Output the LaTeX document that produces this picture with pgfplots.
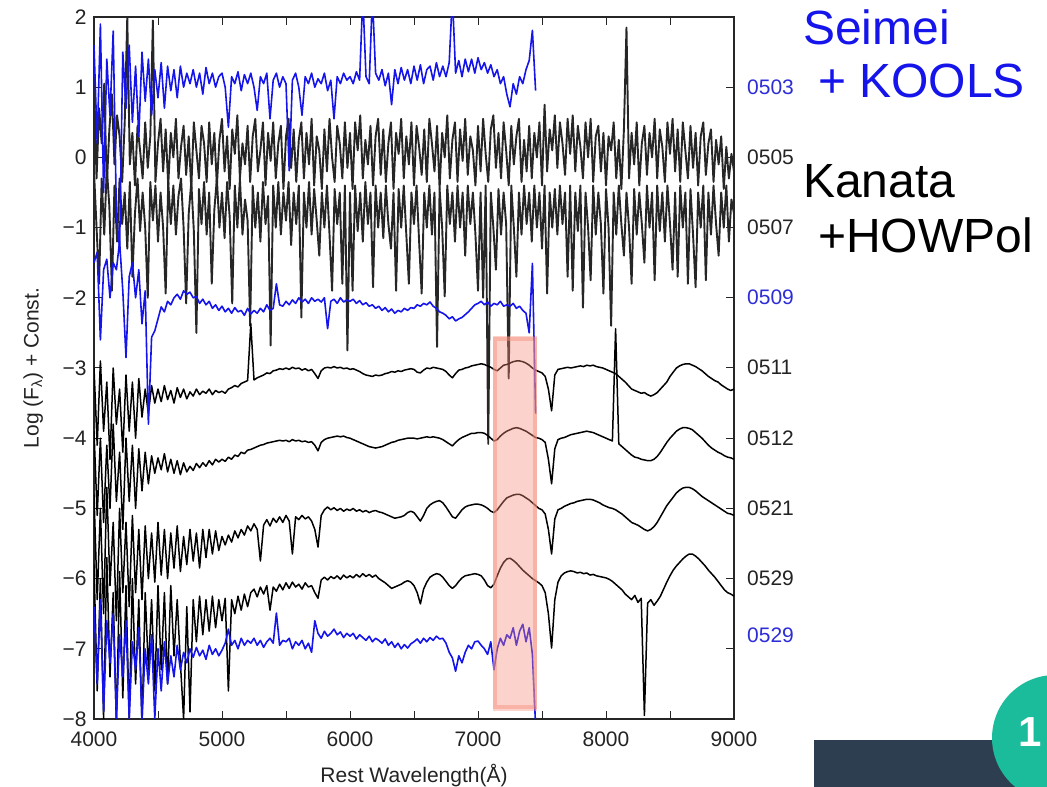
\documentclass[border=0pt]{standalone}
\usepackage{pgfplots}
\pgfplotsset{compat=1.18}
\usepackage{pgfplotstable}
\usepackage{fontspec}
\setmainfont{Liberation Sans}
\definecolor{specblue}{RGB}{20,20,235}
\definecolor{lblblue}{RGB}{45,45,215}
\definecolor{txt}{RGB}{35,35,35}
\definecolor{boxpink}{RGB}{245,140,120}
\definecolor{slate}{RGB}{44,62,80}
\definecolor{badge}{RGB}{26,188,156}

% 0503 (Seimei), 4000-7450 step 25
\pgfplotstableread[header=false,row sep=\\]{
1.6\\ 0.2\\ 1.9\\ -0.5\\ 1.4\\ 0.6\\ 1.8\\ -0.8\\ -1.3\\ 1.5\\
0.7\\ 1.6\\ 0.5\\ 1.3\\ 0.3\\ 1.5\\ 0.8\\ 1.4\\ 0.6\\ 1.25\\
0.85\\ 1.35\\ 0.7\\ 1.3\\ 0.95\\ 1.25\\ 0.85\\ 1.3\\ 1.0\\ 1.2\\
1.05\\ 1.25\\ 1.0\\ 1.2\\ 0.9\\ 1.28\\ 1.05\\ 1.2\\ 1.0\\ 1.15\\
1.2\\ 1.0\\ 0.43\\ 1.15\\ 1.05\\ 1.22\\ 0.95\\ 1.18\\ 1.05\\ 1.2\\
1.0\\ 0.67\\ 1.15\\ 1.05\\ 1.2\\ 0.55\\ 1.1\\ 1.2\\ 1.0\\ 1.15\\
1.05\\ -0.19\\ 1.1\\ 1.2\\ 1.0\\ 0.6\\ 1.15\\ 1.05\\ 1.2\\ 1.0\\
1.12\\ 1.05\\ 1.2\\ 0.95\\ 1.1\\ 0.55\\ 1.15\\ 1.05\\ 1.2\\ 1.1\\
1.15\\ 1.05\\ 1.22\\ 1.1\\ 2.3\\ 1.15\\ 1.05\\ 2.3\\ 1.2\\ 1.1\\
1.25\\ 1.02\\ 1.2\\ 0.75\\ 1.25\\ 1.05\\ 1.28\\ 1.1\\ 1.25\\ 1.05\\
1.3\\ 1.1\\ 1.32\\ 1.05\\ 1.25\\ 1.3\\ 1.1\\ 1.35\\ 1.15\\ 1.3\\
1.15\\ 1.35\\ 2.3\\ 1.2\\ 1.38\\ 1.15\\ 1.4\\ 1.22\\ 1.4\\ 1.2\\
1.42\\ 1.25\\ 1.35\\ 1.2\\ 1.32\\ 1.15\\ 1.25\\ 1.05\\ 1.15\\ 0.9\\
0.72\\ 1.05\\ 0.9\\ 1.15\\ 1.05\\ 1.25\\ 1.38\\ 1.81\\ 0.95\\
}\sA

% 0505 (Kanata), 4000-9000 step 20
\pgfplotstableread[header=false,row sep=\\]{
1.1\\ -0.3\\ 0.7\\ 0.2\\ 1.05\\ -0.4\\ 0.4\\ 0.9\\ -0.1\\ 0.6\\
0.3\\ -0.35\\ 0.5\\ 2.0\\ -0.1\\ 0.35\\ -0.4\\ 0.45\\ 0.1\\ -0.3\\
0.5\\ -0.15\\ 0.3\\ 1.95\\ -0.35\\ 0.2\\ 0.55\\ -0.2\\ 0.4\\ -0.4\\
0.35\\ 0.0\\ 0.55\\ -0.3\\ 0.15\\ 0.45\\ -0.25\\ 0.3\\ -0.45\\ 0.5\\
0.1\\ -0.3\\ 0.45\\ 0.2\\ -0.35\\ 0.5\\ -0.1\\ 0.35\\ -0.4\\ 0.25\\
0.55\\ -0.2\\ 0.3\\ -0.45\\ 0.4\\ 0.05\\ 0.6\\ -0.3\\ 0.2\\ -0.1\\
0.45\\ -0.35\\ 0.3\\ 0.55\\ -0.2\\ 0.1\\ 0.5\\ -0.4\\ 0.35\\ -0.05\\
0.5\\ -0.3\\ 0.2\\ 0.45\\ -0.45\\ 0.3\\ 0.55\\ -0.15\\ 0.4\\ -0.35\\
0.25\\ 0.5\\ -0.3\\ 0.35\\ -0.1\\ 0.55\\ -0.4\\ 0.3\\ 0.1\\ -0.45\\
0.4\\ -0.2\\ 0.55\\ 0.0\\ -0.35\\ 0.45\\ 0.2\\ -0.3\\ 0.5\\ -0.15\\
0.35\\ -0.45\\ 0.5\\ 0.1\\ 0.6\\ -0.3\\ 0.25\\ -0.1\\ 0.45\\ -0.4\\
0.3\\ 0.55\\ -0.25\\ 0.4\\ -0.35\\ 0.2\\ 0.5\\ -0.45\\ 0.35\\ 0.05\\
0.55\\ -0.3\\ 0.3\\ -0.1\\ 0.5\\ -0.4\\ 0.45\\ 0.15\\ -0.25\\ 0.4\\
-0.35\\ 0.55\\ 0.2\\ -0.2\\ 0.45\\ -0.45\\ 0.35\\ 0.0\\ 0.6\\ -0.3\\
0.25\\ 0.5\\ -0.35\\ 0.4\\ -0.05\\ 0.55\\ -0.25\\ 0.3\\ 0.1\\ -0.4\\
0.45\\ -0.2\\ 0.55\\ 0.05\\ -0.35\\ 0.4\\ 0.6\\ -0.15\\ 0.35\\ -0.3\\
0.5\\ 0.1\\ -0.4\\ 0.45\\ -0.1\\ 0.3\\ 0.55\\ -0.35\\ 0.25\\ -0.2\\
0.45\\ -0.3\\ 0.35\\ 0.0\\ 0.5\\ -0.4\\ 0.75\\ -0.2\\ 0.4\\ 0.1\\
0.6\\ -0.15\\ 0.5\\ 0.2\\ -0.25\\ 0.55\\ 0.05\\ 0.6\\ -0.2\\ 0.45\\
0.15\\ -0.3\\ 0.5\\ 0.0\\ 0.55\\ -0.35\\ 0.3\\ 0.45\\ -0.2\\ 0.35\\
-0.4\\ 0.3\\ 0.1\\ 0.5\\ -0.3\\ 0.25\\ -0.45\\ 0.4\\ 1.85\\ -0.3\\
0.35\\ -0.1\\ 0.5\\ -0.4\\ 0.2\\ 0.45\\ -0.25\\ 0.35\\ 0.0\\ 0.55\\
-0.3\\ 0.4\\ 0.15\\ -0.35\\ 0.5\\ 0.05\\ 0.55\\ -0.2\\ 0.4\\ -0.35\\
0.5\\ 0.1\\ -0.3\\ 0.45\\ -0.15\\ 0.35\\ -0.4\\ 0.3\\ 0.5\\ -0.25\\
0.2\\ 0.4\\ -0.35\\ 0.25\\ -0.1\\ 0.3\\ -0.45\\ 0.15\\ -0.3\\ 0.05\\ -0.2\\
}\sB

% 0507 (Kanata), 4000-9000 step 20
\pgfplotstableread[header=false,row sep=\\]{
-0.2\\ -1.0\\ -1.8\\ -0.3\\ -1.1\\ -0.15\\ -0.7\\ -1.9\\ -0.4\\ -1.2\\
-0.3\\ -0.95\\ -0.5\\ -1.3\\ -0.35\\ -1.7\\ -0.8\\ -0.3\\ -1.05\\ -0.5\\
-1.0\\ -2.0\\ -0.35\\ -0.9\\ -0.4\\ -1.2\\ -0.5\\ -1.0\\ -1.94\\ -0.35\\
-0.95\\ -0.4\\ -1.1\\ -0.55\\ -0.3\\ -1.0\\ -2.08\\ -0.8\\ -0.35\\ -1.05\\
-2.5\\ -0.45\\ -0.95\\ -0.35\\ -1.1\\ -0.5\\ -1.8\\ -0.75\\ -0.3\\ -1.0\\
-0.5\\ -1.15\\ -0.35\\ -0.85\\ -2.08\\ -0.4\\ -1.0\\ -0.3\\ -1.1\\ -0.6\\
-0.9\\ -2.4\\ -0.4\\ -1.0\\ -0.5\\ -1.2\\ -0.35\\ -0.95\\ -0.55\\ -2.68\\
-0.4\\ -1.0\\ -0.35\\ -1.1\\ -0.5\\ -0.9\\ -0.35\\ -1.25\\ -0.5\\ -0.95\\
-0.4\\ -2.28\\ -0.5\\ -1.0\\ -0.35\\ -1.1\\ -0.45\\ -0.9\\ -1.4\\ -0.5\\
-1.0\\ -0.4\\ -1.1\\ -1.9\\ -0.45\\ -0.95\\ -0.5\\ -1.8\\ -0.4\\ -2.75\\
-0.5\\ -1.9\\ -0.4\\ -1.05\\ -0.5\\ -1.2\\ -0.35\\ -0.95\\ -0.5\\ -1.85\\
-0.4\\ -1.0\\ -0.5\\ -1.15\\ -0.4\\ -0.95\\ -1.3\\ -0.5\\ -1.9\\ -0.45\\
-1.0\\ -0.4\\ -1.1\\ -1.8\\ -0.5\\ -0.95\\ -0.4\\ -1.2\\ -1.94\\ -0.5\\
-1.0\\ -0.4\\ -1.1\\ -0.5\\ -2.7\\ -0.45\\ -1.0\\ -1.98\\ -0.4\\ -0.95\\
-0.5\\ -1.2\\ -0.4\\ -1.0\\ -0.5\\ -1.4\\ -0.4\\ -0.95\\ -0.5\\ -1.1\\
-1.9\\ -0.5\\ -2.0\\ -0.4\\ -4.08\\ -0.5\\ -1.0\\ -1.6\\ -0.45\\ -1.1\\
-0.5\\ -0.95\\ -3.15\\ -0.4\\ -1.0\\ -1.7\\ -0.5\\ -1.1\\ -0.4\\ -0.95\\
-0.5\\ -1.2\\ -0.4\\ -1.0\\ -0.5\\ -1.3\\ -0.4\\ -1.94\\ -0.5\\ -1.0\\
-0.45\\ -1.1\\ -0.4\\ -0.95\\ -0.5\\ -1.7\\ -0.4\\ -1.9\\ -0.5\\ -1.05\\
-0.4\\ -2.14\\ -0.5\\ -1.0\\ -1.75\\ -0.4\\ -1.1\\ -0.5\\ -0.95\\ -1.94\\
-0.45\\ -1.0\\ -2.4\\ -0.5\\ -1.1\\ -0.4\\ -0.95\\ -1.4\\ -0.5\\ -1.0\\
-1.8\\ -0.45\\ -1.1\\ -0.5\\ -0.95\\ -1.5\\ -0.4\\ -1.0\\ -0.5\\ -1.75\\
-0.4\\ -1.05\\ -0.5\\ -1.2\\ -0.4\\ -0.95\\ -1.6\\ -0.5\\ -1.7\\ -0.4\\
-1.0\\ -0.5\\ -1.8\\ -0.45\\ -1.1\\ -1.85\\ -0.5\\ -1.0\\ -0.4\\ -1.75\\
-0.5\\ -1.1\\ -0.4\\ -0.95\\ -1.4\\ -0.5\\ -1.0\\ -0.4\\ -1.2\\ -0.6\\ -0.8\\
}\sC

% 0509 (Seimei), 4000-7450 step 25
\pgfplotstableread[header=false,row sep=\\]{
-1.5\\ -1.35\\ -2.6\\ -1.6\\ -1.45\\ -2.0\\ -1.5\\ -1.6\\ -1.2\\ -1.9\\
-2.85\\ -1.7\\ -1.5\\ -2.0\\ -1.6\\ -2.37\\ -1.9\\ -3.8\\ -2.56\\ -2.47\\
-2.3\\ -2.13\\ -2.2\\ -2.05\\ -2.1\\ -2.0\\ -1.95\\ -2.02\\ -1.9\\ -1.95\\
-1.92\\ -2.0\\ -1.98\\ -2.08\\ -2.02\\ -2.1\\ -2.05\\ -2.15\\ -2.1\\ -2.18\\
-2.12\\ -2.2\\ -2.15\\ -2.22\\ -2.14\\ -2.2\\ -2.18\\ -2.25\\ -2.15\\ -2.23\\
-2.18\\ -2.22\\ -2.15\\ -2.2\\ -2.1\\ -2.18\\ -2.15\\ -1.8\\ -2.1\\ -2.12\\
-2.05\\ -2.1\\ -2.03\\ -2.08\\ -2.0\\ -2.06\\ -2.02\\ -2.08\\ -2.0\\ -2.05\\
-2.02\\ -2.06\\ -2.0\\ -2.44\\ -2.05\\ -2.02\\ -2.08\\ -2.0\\ -2.06\\ -2.03\\
-2.05\\ -2.02\\ -2.08\\ -2.04\\ -2.1\\ -2.07\\ -2.12\\ -2.1\\ -2.15\\ -2.12\\
-2.18\\ -2.14\\ -2.2\\ -2.16\\ -2.22\\ -2.18\\ -2.2\\ -2.15\\ -2.18\\ -2.14\\
-2.15\\ -2.1\\ -2.12\\ -2.08\\ -2.1\\ -2.06\\ -2.12\\ -2.15\\ -2.2\\ -2.22\\
-2.25\\ -2.3\\ -2.27\\ -2.33\\ -2.3\\ -2.28\\ -2.24\\ -2.2\\ -2.15\\ -2.1\\
-2.08\\ -2.05\\ -2.1\\ -2.06\\ -2.12\\ -2.08\\ -2.1\\ -2.05\\ -2.12\\ -2.1\\
-2.12\\ -2.08\\ -2.15\\ -2.12\\ -2.18\\ -2.22\\ -2.5\\ -1.51\\ -3.65\\
}\sD

% 0511 (Kanata), 4000-9000 step 25
\pgfplotstableread[header=false,row sep=\\]{
-3.0\\ -4.1\\ -2.9\\ -3.9\\ -3.2\\ -4.3\\ -3.0\\ -3.8\\ -3.3\\ -4.2\\
-3.1\\ -3.9\\ -3.2\\ -4.0\\ -3.15\\ -3.7\\ -3.3\\ -3.65\\ -3.25\\ -3.5\\
-3.3\\ -3.48\\ -3.25\\ -3.45\\ -3.32\\ -3.5\\ -3.28\\ -3.42\\ -3.3\\ -3.44\\
-3.34\\ -3.4\\ -3.3\\ -3.38\\ -3.33\\ -3.36\\ -3.3\\ -3.38\\ -3.32\\ -3.35\\
-3.33\\ -3.36\\ -3.3\\ -3.28\\ -3.25\\ -3.27\\ -3.22\\ -3.2\\ -3.18\\ -2.37\\
-3.17\\ -3.14\\ -3.12\\ -3.1\\ -3.07\\ -3.08\\ -3.04\\ -3.03\\ -3.01\\ -3.02\\
-3.0\\ -3.02\\ -2.99\\ -3.01\\ -3.0\\ -3.03\\ -3.01\\ -3.04\\ -3.02\\ -3.08\\
-3.15\\ -3.04\\ -3.0\\ -2.99\\ -3.0\\ -2.98\\ -3.0\\ -2.99\\ -3.01\\ -3.0\\
-3.02\\ -3.01\\ -3.03\\ -3.05\\ -3.08\\ -3.1\\ -3.11\\ -3.12\\ -3.1\\ -3.11\\
-3.1\\ -3.08\\ -3.07\\ -3.05\\ -3.06\\ -3.04\\ -3.05\\ -3.03\\ -3.02\\ -3.01\\
-3.02\\ -3.06\\ -3.07\\ -3.03\\ -3.0\\ -3.01\\ -2.99\\ -3.0\\ -3.01\\ -3.02\\
-3.05\\ -3.1\\ -3.14\\ -3.08\\ -3.03\\ -3.02\\ -3.0\\ -2.99\\ -2.97\\ -2.96\\
-2.95\\ -2.94\\ -2.95\\ -2.97\\ -2.99\\ -3.02\\ -3.04\\ -3.0\\ -2.96\\ -2.95\\
-2.93\\ -2.91\\ -2.9\\ -2.9\\ -2.91\\ -2.93\\ -2.96\\ -3.0\\ -3.03\\ -3.05\\
-3.07\\ -3.12\\ -3.3\\ -3.61\\ -3.1\\ -3.02\\ -3.01\\ -3.0\\ -2.99\\ -3.0\\
-2.99\\ -2.98\\ -2.97\\ -2.98\\ -2.96\\ -2.97\\ -2.96\\ -2.98\\ -2.99\\ -3.0\\
-3.02\\ -3.04\\ -3.06\\ -3.08\\ -3.12\\ -3.16\\ -3.2\\ -3.25\\ -3.3\\ -3.32\\
-3.34\\ -3.36\\ -3.35\\ -3.38\\ -3.4\\ -3.38\\ -3.35\\ -3.3\\ -3.25\\ -3.2\\
-3.12\\ -3.06\\ -3.0\\ -2.97\\ -2.95\\ -2.94\\ -2.94\\ -2.96\\ -2.98\\ -3.01\\
-3.04\\ -3.08\\ -3.12\\ -3.15\\ -3.18\\ -3.2\\ -3.24\\ -3.27\\ -3.3\\ -3.32\\
-3.3\\
}\sE

% 0512 (Kanata), 4000-9000 step 25
\pgfplotstableread[header=false,row sep=\\]{
-3.9\\ -5.1\\ -4.0\\ -5.2\\ -4.1\\ -5.0\\ -3.8\\ -4.9\\ -4.2\\ -5.3\\
-4.0\\ -4.9\\ -4.1\\ -5.0\\ -4.15\\ -4.75\\ -4.2\\ -4.65\\ -4.25\\ -4.5\\
-4.28\\ -4.45\\ -4.22\\ -4.48\\ -4.3\\ -4.5\\ -4.32\\ -4.52\\ -4.35\\ -4.48\\
-4.4\\ -4.46\\ -4.36\\ -4.42\\ -4.35\\ -4.4\\ -4.32\\ -4.38\\ -4.3\\ -4.34\\
-4.3\\ -4.33\\ -4.27\\ -4.3\\ -4.24\\ -4.26\\ -4.2\\ -4.22\\ -4.17\\ -4.16\\
-4.14\\ -4.12\\ -4.1\\ -4.09\\ -4.07\\ -4.06\\ -4.05\\ -4.04\\ -4.03\\ -4.04\\
-4.03\\ -4.05\\ -4.02\\ -4.04\\ -4.03\\ -4.05\\ -4.04\\ -4.06\\ -4.05\\ -4.1\\
-4.18\\ -4.06\\ -4.02\\ -4.0\\ -3.99\\ -3.98\\ -3.97\\ -3.98\\ -3.97\\ -3.99\\
-4.0\\ -4.02\\ -4.04\\ -4.06\\ -4.08\\ -4.1\\ -4.12\\ -4.13\\ -4.14\\ -4.13\\
-4.12\\ -4.1\\ -4.08\\ -4.06\\ -4.05\\ -4.03\\ -4.02\\ -4.01\\ -4.0\\ -4.0\\
-4.0\\ -4.01\\ -4.0\\ -3.99\\ -3.98\\ -3.99\\ -3.98\\ -3.99\\ -4.0\\ -4.02\\
-4.05\\ -4.08\\ -4.11\\ -4.06\\ -4.02\\ -3.99\\ -3.97\\ -3.95\\ -3.93\\ -3.93\\
-3.92\\ -3.92\\ -3.93\\ -3.96\\ -4.0\\ -4.04\\ -4.02\\ -3.97\\ -3.93\\ -3.9\\
-3.88\\ -3.86\\ -3.85\\ -3.86\\ -3.88\\ -3.9\\ -3.93\\ -3.96\\ -3.99\\ -4.0\\
-4.02\\ -4.06\\ -4.3\\ -4.65\\ -4.15\\ -4.02\\ -4.0\\ -3.99\\ -3.97\\ -3.95\\
-3.94\\ -3.93\\ -3.92\\ -3.91\\ -3.9\\ -3.91\\ -3.92\\ -3.94\\ -3.96\\ -3.98\\
-4.0\\ -4.02\\ -4.04\\ -2.44\\ -4.08\\ -4.12\\ -4.16\\ -4.2\\ -4.24\\ -4.27\\
-4.28\\ -4.3\\ -4.31\\ -4.32\\ -4.32\\ -4.3\\ -4.26\\ -4.2\\ -4.13\\ -4.06\\
-4.0\\ -3.95\\ -3.9\\ -3.87\\ -3.85\\ -3.85\\ -3.86\\ -3.88\\ -3.92\\ -3.96\\
-4.0\\ -4.05\\ -4.1\\ -4.14\\ -4.17\\ -4.2\\ -4.22\\ -4.25\\ -4.27\\ -4.28\\
-4.3\\
}\sF

% 0521 (Kanata), 4000-9000 step 25
\pgfplotstableread[header=false,row sep=\\]{
-4.8\\ -6.3\\ -5.0\\ -6.5\\ -4.7\\ -6.1\\ -5.2\\ -6.6\\ -5.0\\ -6.2\\
-5.2\\ -6.4\\ -5.1\\ -6.2\\ -5.3\\ -6.3\\ -5.25\\ -6.0\\ -5.35\\ -6.05\\
-5.2\\ -5.95\\ -5.3\\ -6.0\\ -5.35\\ -5.85\\ -5.25\\ -5.9\\ -5.4\\ -5.8\\
-5.3\\ -5.75\\ -5.35\\ -5.85\\ -5.3\\ -5.7\\ -5.3\\ -5.65\\ -5.32\\ -5.6\\
-5.4\\ -5.52\\ -5.38\\ -5.48\\ -5.32\\ -5.42\\ -5.3\\ -5.38\\ -5.25\\ -5.32\\
-5.22\\ -5.3\\ -5.75\\ -5.24\\ -5.16\\ -5.25\\ -5.14\\ -5.2\\ -5.12\\ -5.2\\
-5.1\\ -5.18\\ -5.65\\ -5.12\\ -5.16\\ -5.1\\ -5.15\\ -5.12\\ -5.18\\ -5.3\\
-5.55\\ -5.1\\ -5.02\\ -4.98\\ -5.02\\ -4.99\\ -5.03\\ -5.0\\ -5.04\\ -5.01\\
-5.03\\ -5.0\\ -5.04\\ -5.02\\ -5.05\\ -5.03\\ -5.06\\ -5.04\\ -5.03\\ -5.05\\
-5.06\\ -5.08\\ -5.1\\ -5.12\\ -5.14\\ -5.13\\ -5.12\\ -5.1\\ -5.06\\ -5.04\\
-5.06\\ -5.12\\ -5.18\\ -5.1\\ -5.0\\ -4.95\\ -4.92\\ -4.9\\ -4.89\\ -4.92\\
-4.98\\ -5.05\\ -5.12\\ -5.14\\ -5.08\\ -5.02\\ -4.98\\ -4.96\\ -4.95\\ -4.94\\
-4.94\\ -4.95\\ -4.97\\ -5.0\\ -5.04\\ -5.06\\ -5.02\\ -4.96\\ -4.9\\ -4.85\\
-4.83\\ -4.81\\ -4.8\\ -4.8\\ -4.82\\ -4.85\\ -4.88\\ -4.92\\ -4.96\\ -5.0\\
-5.02\\ -5.08\\ -5.3\\ -5.65\\ -5.15\\ -5.02\\ -5.0\\ -4.97\\ -4.95\\ -4.93\\
-4.92\\ -4.9\\ -4.89\\ -4.88\\ -4.87\\ -4.87\\ -4.88\\ -4.9\\ -4.92\\ -4.95\\
-4.97\\ -4.99\\ -5.0\\ -5.02\\ -5.05\\ -5.08\\ -5.12\\ -5.16\\ -5.2\\ -5.22\\
-5.24\\ -5.27\\ -5.3\\ -5.32\\ -5.3\\ -5.26\\ -5.2\\ -5.12\\ -5.04\\ -4.96\\
-4.9\\ -4.84\\ -4.78\\ -4.74\\ -4.71\\ -4.7\\ -4.7\\ -4.72\\ -4.75\\ -4.79\\
-4.83\\ -4.86\\ -4.89\\ -4.92\\ -4.95\\ -4.98\\ -5.01\\ -5.04\\ -5.07\\ -5.08\\
-5.1\\
}\sG

% 0529 (Kanata), 4000-9000 step 25
\pgfplotstableread[header=false,row sep=\\]{
-5.8\\ -7.6\\ -6.0\\ -8.0\\ -5.7\\ -7.4\\ -6.2\\ -8.1\\ -5.9\\ -7.7\\
-6.1\\ -8.0\\ -6.0\\ -7.5\\ -6.3\\ -8.1\\ -6.2\\ -7.3\\ -6.3\\ -7.6\\
-6.1\\ -7.3\\ -6.2\\ -7.5\\ -6.1\\ -7.1\\ -6.3\\ -7.2\\ -8.0\\ -6.4\\
-7.9\\ -6.3\\ -6.9\\ -6.25\\ -6.8\\ -6.3\\ -6.75\\ -6.25\\ -6.7\\ -6.3\\
-6.6\\ -6.28\\ -7.6\\ -6.3\\ -6.5\\ -6.25\\ -6.45\\ -6.22\\ -6.4\\ -6.2\\
-6.15\\ -6.26\\ -6.12\\ -6.22\\ -6.1\\ -6.45\\ -6.12\\ -6.18\\ -6.08\\ -6.16\\
-6.06\\ -6.14\\ -6.05\\ -6.12\\ -6.08\\ -6.15\\ -6.06\\ -6.12\\ -6.1\\ -6.2\\
-6.28\\ -6.02\\ -5.98\\ -6.02\\ -5.97\\ -6.0\\ -5.96\\ -6.01\\ -5.95\\ -5.99\\
-5.96\\ -5.99\\ -5.94\\ -5.98\\ -5.93\\ -5.97\\ -5.94\\ -5.98\\ -5.95\\ -6.0\\
-6.03\\ -6.06\\ -6.1\\ -6.14\\ -6.12\\ -6.1\\ -6.08\\ -6.05\\ -6.03\\ -6.05\\
-6.1\\ -6.2\\ -6.36\\ -6.15\\ -6.05\\ -5.98\\ -5.95\\ -5.93\\ -5.94\\ -5.98\\
-6.04\\ -6.1\\ -6.14\\ -6.1\\ -6.04\\ -5.99\\ -5.96\\ -5.95\\ -5.94\\ -5.93\\
-5.94\\ -5.96\\ -6.02\\ -6.1\\ -6.13\\ -6.08\\ -5.96\\ -5.85\\ -5.77\\ -5.72\\
-5.71\\ -5.74\\ -5.78\\ -5.83\\ -5.88\\ -5.92\\ -5.96\\ -6.0\\ -6.03\\ -6.06\\
-6.1\\ -6.2\\ -6.5\\ -6.99\\ -6.3\\ -6.05\\ -5.96\\ -5.92\\ -5.9\\ -5.89\\
-5.9\\ -5.92\\ -5.91\\ -5.93\\ -5.92\\ -5.95\\ -5.94\\ -5.96\\ -5.97\\ -5.98\\
-5.99\\ -6.01\\ -6.04\\ -6.08\\ -6.12\\ -6.16\\ -6.22\\ -6.26\\ -6.3\\ -6.24\\
-6.34\\ -6.28\\ -7.95\\ -6.35\\ -6.3\\ -6.38\\ -6.32\\ -6.25\\ -6.15\\ -6.05\\
-5.96\\ -5.88\\ -5.82\\ -5.77\\ -5.72\\ -5.68\\ -5.65\\ -5.65\\ -5.68\\ -5.72\\
-5.77\\ -5.82\\ -5.88\\ -5.93\\ -5.98\\ -6.04\\ -6.1\\ -6.16\\ -6.2\\ -6.22\\
-6.25\\
}\sH

% 0529 (Seimei), 4000-7450 step 25
\pgfplotstableread[header=false,row sep=\\]{
-6.4\\ -7.5\\ -6.3\\ -7.9\\ -6.6\\ -7.2\\ -6.5\\ -8.0\\ -6.8\\ -7.4\\
-6.6\\ -8.0\\ -6.9\\ -7.3\\ -6.7\\ -8.0\\ -7.0\\ -7.5\\ -6.8\\ -8.0\\
-7.0\\ -7.6\\ -6.9\\ -7.5\\ -7.1\\ -7.4\\ -6.95\\ -7.3\\ -7.05\\ -7.2\\
-7.0\\ -7.12\\ -6.98\\ -7.1\\ -7.02\\ -7.15\\ -6.95\\ -7.08\\ -7.0\\ -7.1\\
-7.02\\ -6.92\\ -6.72\\ -6.95\\ -6.88\\ -7.0\\ -6.85\\ -6.95\\ -6.88\\ -6.92\\
-6.85\\ -6.95\\ -6.88\\ -6.98\\ -6.9\\ -6.85\\ -6.92\\ -6.49\\ -6.95\\ -6.88\\
-6.9\\ -6.85\\ -7.0\\ -6.9\\ -6.95\\ -6.88\\ -7.0\\ -6.92\\ -7.05\\ -6.6\\
-6.78\\ -6.85\\ -6.75\\ -6.82\\ -6.78\\ -6.72\\ -6.8\\ -6.76\\ -6.84\\ -6.78\\
-6.82\\ -6.78\\ -6.86\\ -6.8\\ -6.84\\ -6.88\\ -6.82\\ -6.9\\ -6.85\\ -6.88\\
-6.92\\ -6.86\\ -6.95\\ -6.9\\ -6.98\\ -6.92\\ -7.0\\ -6.94\\ -6.99\\ -6.93\\
-6.9\\ -6.86\\ -6.92\\ -6.85\\ -6.9\\ -6.84\\ -6.88\\ -6.82\\ -6.86\\ -6.85\\
-6.92\\ -7.05\\ -7.13\\ -7.32\\ -7.1\\ -7.2\\ -7.05\\ -6.95\\ -7.0\\ -6.9\\
-6.89\\ -6.95\\ -7.0\\ -7.08\\ -6.9\\ -7.3\\ -7.0\\ -6.85\\ -6.95\\ -6.8\\
-6.85\\ -6.7\\ -6.95\\ -6.75\\ -6.65\\ -6.9\\ -6.7\\ -7.08\\ -8.1\\
}\sI

\begin{document}
\begin{tikzpicture}[x=1pt,y=1pt]
\path[use as bounding box] (0,0) rectangle (1047,787);
\fill[slate] (814,0) rectangle (1047,47);
\fill[badge] (1055,49) circle (63);
\node[white,inner sep=0pt,font=\fontsize{42}{42}\selectfont\bfseries] at (1030,55) {1};

\begin{axis}[
  at={(94pt,68pt)}, anchor=south west,
  scale only axis, width=640pt, height=702pt,
  xmin=4000, xmax=9000, ymin=-8, ymax=2,
  clip mode=individual,
  axis line style={line width=1.3pt, black!85},
  tick style={line width=1pt, black!85},
  major tick length=8pt, tick align=inside,
  xtick={4000,4500,...,9000},
  xticklabels={4000,,5000,,6000,,7000,,8000,,9000},
  ytick={-8,-7,...,2},
  yticklabels={−8,−7,−6,−5,−4,−3,−2,−1,0,1,2},
  ticklabel style={font=\fontsize{21}{21}\selectfont, text=txt},
  xticklabel style={yshift=-9pt},
  yticklabel style={xshift=-4pt},
  xlabel={Rest Wavelength(Å)},
  ylabel={Log (F\textsubscript{λ}) + Const.},
  label style={font=\fontsize{21}{21}\selectfont, text=txt},
  xlabel style={at={(axis description cs:0.5,-0.080)}, anchor=center},
  ylabel style={at={(axis description cs:-0.095,0.5)}, anchor=center, rotate=0},
  every axis plot/.append style={line join=round},
]
\addplot[black!85, line width=1.9pt] table[x expr=4000+20*\coordindex, y index=0] {\sB};
\addplot[black!85, line width=1.9pt] table[x expr=4000+20*\coordindex, y index=0] {\sC};
\addplot[black, line width=1.5pt] table[x expr=4000+25*\coordindex, y index=0] {\sE};
\addplot[black, line width=1.5pt] table[x expr=4000+25*\coordindex, y index=0] {\sF};
\addplot[black, line width=1.5pt] table[x expr=4000+25*\coordindex, y index=0] {\sG};
\addplot[black, line width=1.5pt] table[x expr=4000+25*\coordindex, y index=0] {\sH};
\addplot[specblue, line width=1.6pt] table[x expr=4000+25*\coordindex, y index=0] {\sA};
\addplot[specblue, line width=1.6pt] table[x expr=4000+25*\coordindex, y index=0] {\sD};
\addplot[specblue, line width=1.6pt] table[x expr=4000+25*\coordindex, y index=0] {\sI};
\fill[boxpink, opacity=0.38] (axis cs:7117,-2.54) rectangle (axis cs:7461,-7.88);
\draw[boxpink, opacity=0.45, line width=4pt] (axis cs:7135,-2.58) rectangle (axis cs:7443,-7.83);
\end{axis}

% right-hand date labels
\begin{scope}[every node/.style={anchor=west, inner sep=0pt, font=\fontsize{21}{21}\selectfont}]
\node[text=lblblue] at (747,700) {0503};
\node[text=txt] at (747,630) {0505};
\node[text=txt] at (747,560) {0507};
\node[text=lblblue] at (747,490) {0509};
\node[text=txt] at (747,420) {0511};
\node[text=txt] at (747,349) {0512};
\node[text=txt] at (747,279) {0521};
\node[text=txt] at (747,209) {0529};
\node[text=lblblue] at (747,152) {0529};
\end{scope}

% instrument labels
\begin{scope}[every node/.style={anchor=base west, inner sep=0pt, font=\fontsize{48}{48}\selectfont}]
\node[text=specblue] at (803,742) {Seimei};
\node[text=specblue] at (818,689) {+ KOOLS};
\node[text=black] at (803,589) {Kanata};
\node[text=black] at (818,534) {+HOWPol};
\end{scope}
\end{tikzpicture}
\end{document}
